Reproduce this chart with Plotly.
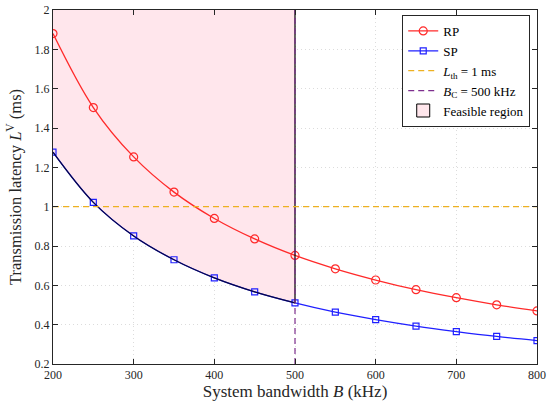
import plotly.graph_objects as go

# System bandwidth (kHz) and transmission latency (ms) for the two schemes
bandwidth = [200, 250, 300, 350, 400, 450, 500, 550, 600, 650, 700, 750, 800]
latency_rp = [1.880, 1.504, 1.253, 1.074, 0.940, 0.836, 0.752, 0.684, 0.627, 0.578, 0.537, 0.501, 0.470]
latency_sp = [1.277, 1.022, 0.851, 0.730, 0.638, 0.567, 0.511, 0.464, 0.426, 0.393, 0.365, 0.340, 0.319]

latency_threshold = 1.0      # L_th (ms)
bandwidth_cap = 500          # B_C (kHz)
y_range = [0.2, 2.0]
x_range = [200, 800]
x_ticks = [200, 300, 400, 500, 600, 700, 800]
y_ticks = [0.2, 0.4, 0.6, 0.8, 1.0, 1.2, 1.4, 1.6, 1.8, 2.0]
y_tick_text = ["0.2", "0.4", "0.6", "0.8", "1", "1.2", "1.4", "1.6", "1.8", "2"]

FONT = "Liberation Serif"
RED = "#FF2A2A"
BLUE = "#2020FF"
ORANGE = "#EDB120"
PURPLE = "#7E2F8E"
PINK = "rgb(255,230,236)"
AXIS_GRAY = "#262626"

# feasible region: SP curve up to the bandwidth cap, bounded above by the axis top
n_cap = bandwidth.index(bandwidth_cap)
feas_x = bandwidth[: n_cap + 1]
feas_y = latency_sp[: n_cap + 1]

fig = go.Figure()

# upper boundary of the region (invisible) for the tonexty fill
fig.add_trace(go.Scatter(
    x=[x_range[0], bandwidth_cap], y=[y_range[1], y_range[1]],
    mode="lines", line=dict(width=0, color="rgba(0,0,0,0)"),
    showlegend=False, hoverinfo="skip",
))
fig.add_trace(go.Scatter(
    x=feas_x, y=feas_y, mode="lines", fill="tonexty", fillcolor=PINK,
    line=dict(width=0, shape="spline", color="rgba(0,0,0,0)"),
    showlegend=False, hoverinfo="skip",
))

fig.add_trace(go.Scatter(
    x=bandwidth, y=latency_rp, name="RP", mode="lines+markers",
    line=dict(color=RED, width=1.3, shape="spline"),
    marker=dict(symbol="circle-open", size=8, color=RED, line=dict(width=1.2)),
))
fig.add_trace(go.Scatter(
    x=bandwidth, y=latency_sp, name="SP", mode="lines+markers",
    line=dict(color=BLUE, width=1.3, shape="spline"),
    marker=dict(symbol="square-open", size=6, color=BLUE, line=dict(width=1.2)),
))

# black outline of the feasible region
fig.add_trace(go.Scatter(
    x=feas_x, y=feas_y, mode="lines",
    line=dict(color="rgba(0,0,40,0.85)", width=1.2, shape="spline"),
    showlegend=False, hoverinfo="skip",
))
fig.add_trace(go.Scatter(
    x=[bandwidth_cap, bandwidth_cap], y=[feas_y[-1], y_range[1]], mode="lines",
    line=dict(color="black", width=1.2),
    showlegend=False, hoverinfo="skip",
))

# reference lines
fig.add_trace(go.Scatter(
    x=x_range, y=[latency_threshold, latency_threshold], mode="lines",
    name="<i>L</i><sub>th</sub> = 1 ms",
    line=dict(color=ORANGE, width=1.2, dash="6px,4px"),
))
fig.add_trace(go.Scatter(
    x=[bandwidth_cap, bandwidth_cap], y=y_range, mode="lines",
    name="<i>B</i><sub>C</sub> = 500 kHz",
    line=dict(color=PURPLE, width=1.2, dash="6px,4px"),
))

# legend swatch for the feasible region
fig.add_trace(go.Scatter(
    x=[None], y=[None], mode="markers", name="Feasible region",
    marker=dict(symbol="square", size=13, color=PINK, line=dict(color="black", width=1)),
))

axis_common = dict(
    showline=True, linecolor=AXIS_GRAY, linewidth=1, mirror="ticks",
    ticks="inside", ticklen=5, tickcolor=AXIS_GRAY,
    showgrid=True, gridcolor="#DCDCDC", griddash="1px,3px", gridwidth=1,
    zeroline=False, automargin=False,
    tickfont=dict(family=FONT, size=12, color=AXIS_GRAY),
)

fig.update_xaxes(
    range=x_range, tickvals=x_ticks, **axis_common,
    title=dict(text="System bandwidth <i>B</i> (kHz)",
               font=dict(family=FONT, size=17, color=AXIS_GRAY), standoff=4),
)
fig.update_yaxes(
    range=y_range, tickvals=y_ticks, ticktext=y_tick_text, **axis_common,
    title=dict(text="Transmission latency <i>L</i><sup>V</sup> (ms)",
               font=dict(family=FONT, size=16.5, color=AXIS_GRAY), standoff=8),
)

fig.update_layout(
    width=547, height=401,
    margin=dict(l=53, r=10, t=10, b=37),
    paper_bgcolor="white", plot_bgcolor="white",
    font=dict(family=FONT, size=13, color="black"),
    showlegend=True,
    legend=dict(
        x=0.986, y=0.986, xanchor="right", yanchor="top",
        bgcolor="white", bordercolor=AXIS_GRAY, borderwidth=1,
        font=dict(family=FONT, size=13, color="black"),
        itemwidth=30, tracegroupgap=0, traceorder="normal",
    ),
)

fig.write_html("out.html")
